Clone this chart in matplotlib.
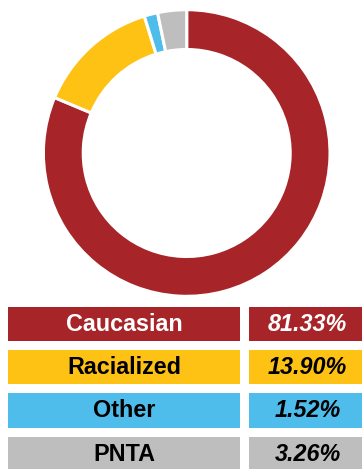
import matplotlib
matplotlib.use("Agg")
import matplotlib.pyplot as plt
from matplotlib.patches import Rectangle

# Respondent breakdown
categories = ["Caucasian", "Racialized", "Other", "PNTA"]
shares = [81.33, 13.90, 1.52, 3.26]
colors = ["#A72428", "#FEC214", "#4EBDEC", "#BEBEBE"]
text_colors = ["white", "black", "black", "black"]

W, H = 362, 469
fig = plt.figure(figsize=(W / 100, H / 100), dpi=100)
fig.patch.set_facecolor("white")

# Donut chart, placed in pixel units
cx, cy, r_out, r_in = 186.7, 153.0, 143.3, 103.5
half = 150
ax = fig.add_axes([(cx - half) / W, (H - cy - half) / H, 2 * half / W, 2 * half / H])
ax.pie(shares, colors=colors, startangle=90, counterclock=False,
       radius=r_out, wedgeprops=dict(width=r_out - r_in, edgecolor="white", linewidth=2.2))
ax.set_xlim(-half, half)
ax.set_ylim(-half, half)
ax.set_aspect("equal")
ax.axis("off")

# Legend table with values
tab = fig.add_axes([0, 0, 1, 1])
tab.set_xlim(0, W)
tab.set_ylim(H, 0)
tab.axis("off")

row_tops = [307, 350, 393.5, 437]
row_h = 34.5
left_x0, left_x1 = 8, 240
right_x0, right_x1 = 249, 362

for top, cat, val, col, tc in zip(row_tops, categories, shares, colors, text_colors):
    tab.add_patch(Rectangle((left_x0, top), left_x1 - left_x0, row_h, color=col, lw=0))
    tab.add_patch(Rectangle((right_x0, top), right_x1 - right_x0, row_h, color=col, lw=0))
    yc = top + row_h / 2
    tab.text((left_x0 + left_x1) / 2, yc, cat, ha="center", va="center",
             color=tc, fontsize=16.8, fontweight="bold", family="Liberation Sans")
    tab.text((right_x0 + right_x1) / 2 + 2, yc, f"{val:.2f}%", ha="center", va="center",
             color=tc, fontsize=16.8, fontweight="bold", fontstyle="italic",
             family="Liberation Sans")

fig.savefig("out.png", dpi=100, facecolor="white")
